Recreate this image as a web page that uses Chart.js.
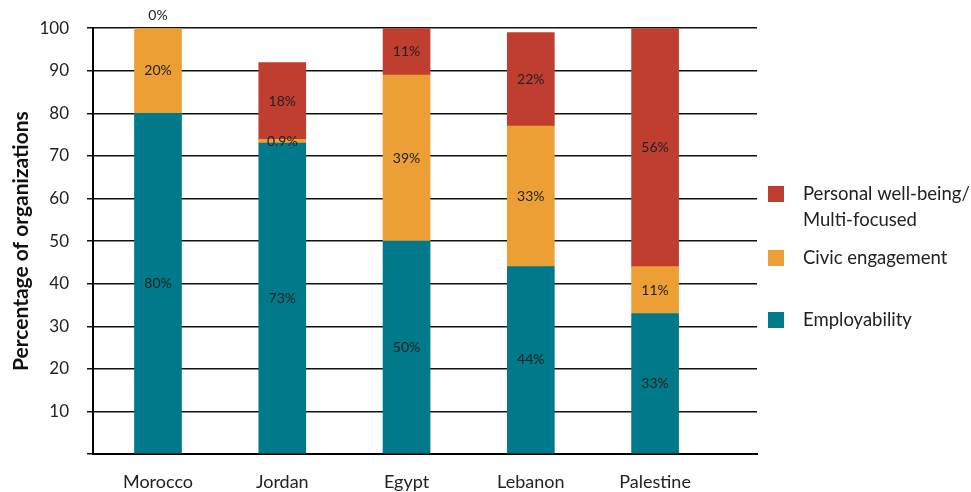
<!DOCTYPE html>
<html>
<head>
<meta charset="utf-8">
<script src="https://cdn.jsdelivr.net/npm/chart.js@4/dist/chart.umd.min.js"></script>
<style>
	html, body { margin: 0; padding: 0; background: #fff; }
	#wrap { width: 971px; height: 492px; position: relative; }
</style>
</head>
<body>
<div id="wrap"><canvas id="graficoOrganizacoes"></canvas></div>
<script>
// categorias e séries (percentual de organizações)
var paises = ['Morocco', 'Jordan', 'Egypt', 'Lebanon', 'Palestine'];
var employability = [80, 73, 50, 44, 33];
var civicEngagement = [20, 0.9, 39, 33, 11];
var personalWellBeing = [0, 18, 11, 22, 56];
var yTicks = [0, 10, 20, 30, 40, 50, 60, 70, 80, 90, 100];
var tituloEixoY = 'Percentage of organizations';

var fonte = "Lato, 'Noto Sans', sans-serif";
var corTexto = '#222';

function pontos(valores) {
	return valores.map(function(v, i) { return { x: i, y: v }; });
}

// rótulos de percentual no meio de cada segmento
var rotulosSegmentos = {
	id: 'rotulosSegmentos',
	afterDatasetsDraw: function(chart) {
		var ctx = chart.ctx;
		ctx.save();
		ctx.font = '14px ' + fonte;
		ctx.fillStyle = corTexto;
		ctx.textAlign = 'center';
		ctx.textBaseline = 'middle';
		chart.data.datasets.forEach(function(ds, d) {
			var meta = chart.getDatasetMeta(d);
			meta.data.forEach(function(el, i) {
				var v = ds.data[i].y;
				var p = el.getProps(['x', 'y', 'base'], true);
				var y = v === 0 ? p.y - 13 : (p.y + p.base) / 2;
				ctx.fillText(v + '%', p.x, y);
			});
		});
		ctx.restore();
	}
};

// legenda à direita, na ordem inversa das séries
var legenda = {
	id: 'legenda',
	afterDraw: function(chart) {
		var ctx = chart.ctx;
		var linhas = [
			{ ds: 2, y: 194, texto: ['Personal well-being/', 'Multi-focused'] },
			{ ds: 1, y: 258, texto: ['Civic engagement'] },
			{ ds: 0, y: 320, texto: ['Employability'] }
		];
		ctx.save();
		ctx.font = '18.5px ' + fonte;
		ctx.textBaseline = 'middle';
		linhas.forEach(function(l) {
			var ds = chart.data.datasets[l.ds];
			ctx.fillStyle = ds.backgroundColor;
			ctx.fillRect(768, l.y - 8, 16, 16);
			ctx.fillStyle = corTexto;
			l.texto.forEach(function(t, k) {
				ctx.fillText(t, 803, l.y + k * 26);
			});
		});
		ctx.restore();
	}
};

var grafico = new Chart(document.getElementById('graficoOrganizacoes').getContext('2d'), {
	type: 'bar',
	data: {
		datasets: [{
			label: 'Employability',
			backgroundColor: '#00798A',
			data: pontos(employability)
		}, {
			label: 'Civic engagement',
			backgroundColor: '#EC9F35',
			data: pontos(civicEngagement)
		}, {
			label: 'Personal well-being/Multi-focused',
			backgroundColor: '#C03E2F',
			data: pontos(personalWellBeing)
		}]
	},
	options: {
		responsive: true,
		maintainAspectRatio: false,
		animation: false,
		layout: { padding: { top: 28, right: 214, left: 0, bottom: 0 } },
		barThickness: 47,
		plugins: {
			legend: { display: false },
			tooltip: { enabled: false }
		},
		scales: {
			x: {
				type: 'linear',
				stacked: true,
				offset: false,
				min: -0.523,
				max: 4.82,
				grid: { display: false, drawTicks: false },
				border: { display: true, color: '#000', width: 2 },
				afterBuildTicks: function(scale) {
					scale.ticks = paises.map(function(p, i) { return { value: i }; });
				},
				afterFit: function(scale) { scale.height = 38; },
				ticks: {
					autoSkip: false,
					maxRotation: 0,
					padding: 17,
					color: corTexto,
					font: { family: fonte, size: 18 },
					callback: function(v) { return paises[v]; }
				}
			},
			y: {
				stacked: true,
				min: 0,
				max: 100,
				afterBuildTicks: function(scale) {
					scale.ticks = yTicks.map(function(v) { return { value: v }; });
				},
				afterFit: function(scale) { scale.width = 93; },
				grid: { color: '#111', lineWidth: 1.5, tickLength: 6 },
				border: { display: true, color: '#000', width: 2 },
				ticks: {
					padding: 18,
					color: corTexto,
					font: { family: fonte, size: 17 },
					callback: function(v) { return v === 0 ? '' : v; }
				},
				title: {
					display: true,
					text: tituloEixoY,
					color: '#111',
					padding: { top: 9, bottom: 0 },
					font: { family: fonte, size: 21, weight: 'bold' }
				}
			}
		}
	},
	plugins: [rotulosSegmentos, legenda]
});
</script>
</body>
</html>
